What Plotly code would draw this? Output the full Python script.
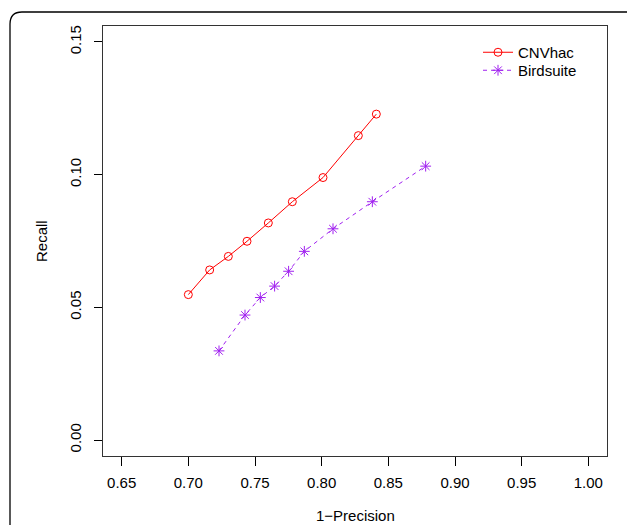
import plotly.graph_objects as go

W, H = 627, 525

cnv_x = [0.700, 0.716, 0.730, 0.744, 0.760, 0.778, 0.801, 0.8275, 0.841]
cnv_y = [0.0548, 0.0641, 0.0692, 0.0749, 0.0818, 0.0898, 0.0989, 0.1147, 0.1228]
bird_x = [0.723, 0.7425, 0.754, 0.7647, 0.7752, 0.787, 0.8085, 0.838, 0.878]
bird_y = [0.0336, 0.0471, 0.0537, 0.0580, 0.0636, 0.0711, 0.0796, 0.0898, 0.1032]

x_ticks = [0.65, 0.70, 0.75, 0.80, 0.85, 0.90, 0.95, 1.00]
y_ticks = [0.00, 0.05, 0.10, 0.15]

RED = "#FF0000"
PURPLE = "#A020F0"
FONT = "Liberation Sans, Arial, Helvetica, sans-serif"
FS = 15

fig = go.Figure()
fig.add_trace(go.Scatter(
    x=cnv_x, y=cnv_y, mode="lines+markers", name="CNVhac",
    line=dict(color=RED, width=1),
    marker=dict(symbol="circle-open", size=8, color=RED, line=dict(width=1, color=RED)),
    legend="legend",
))
fig.add_trace(go.Scatter(
    x=bird_x, y=bird_y, mode="lines+markers", name="Birdsuite",
    line=dict(color=PURPLE, width=1, dash="4px,4px"),
    marker=dict(symbol="asterisk-open", size=9, color=PURPLE, line=dict(width=1, color=PURPLE)),
    legend="legend2",
))

# plot box in pixels
L, R_, T, B = 103, 607, 26, 456

leg_common = dict(
    x=478 / W, xanchor="left", yanchor="middle",
    bgcolor="rgba(0,0,0,0)", borderwidth=0,
    font=dict(family=FONT, size=FS), tracegroupgap=0, itemwidth=30,
)

fig.update_layout(
    width=W, height=H,
    margin=dict(l=0, r=0, t=0, b=0),
    paper_bgcolor="white", plot_bgcolor="white",
    font=dict(family=FONT, size=FS, color="black"),
    xaxis=dict(
        domain=[L / W, R_ / W], range=[0.636, 1.014],
        tickvals=x_ticks, ticktext=[f"{v:.2f}" for v in x_ticks],
        tickfont=dict(size=FS),
        ticks="outside", ticklen=9, tickwidth=1, tickcolor="black",
        ticklabelstandoff=4,
        showline=True, linecolor="#333333", linewidth=1, mirror=True,
        showgrid=False, zeroline=False,
        automargin=False,
    ),
    yaxis=dict(
        domain=[(H - B) / H, (H - T) / H], range=[-0.006, 0.156],
        tickvals=y_ticks, ticktext=[f"{v:.2f}" for v in y_ticks],
        tickfont=dict(size=FS),
        tickangle=-90,
        ticks="outside", ticklen=8, tickwidth=1, tickcolor="black",
        ticklabelstandoff=7,
        showline=True, linecolor="#333333", linewidth=1, mirror=True,
        showgrid=False, zeroline=False,
        automargin=False,
    ),
    legend=dict(y=1 - 52.5 / H, **leg_common),
    legend2=dict(y=1 - 70.5 / H, **leg_common),
    showlegend=True,
)

fig.add_annotation(text="1\u2212Precision", xref="paper", yref="paper",
                   x=(L + R_) / 2 / W, y=1 - 515 / H, xanchor="center", yanchor="middle",
                   showarrow=False, font=dict(family=FONT, size=FS))
fig.add_annotation(text="Recall", xref="paper", yref="paper",
                   x=41 / W, y=1 - (T + B) / 2 / H, xanchor="center", yanchor="middle",
                   textangle=-90, showarrow=False, font=dict(family=FONT, size=FS))

# outer rounded frame (cut off at right and bottom like the reference)
x0, y0 = 10 / W, 1 - 12 / H
rx, ry = 12 / W, 12 / H
x1, y1 = 1.01, -0.02
path = (f"M {x0},{y1} L {x0},{y0 - ry} Q {x0},{y0} {x0 + rx},{y0} "
        f"L {x1},{y0}")
fig.add_shape(type="path", xref="paper", yref="paper", path=path,
              line=dict(color="black", width=1.3))

fig.write_html("out.html")
